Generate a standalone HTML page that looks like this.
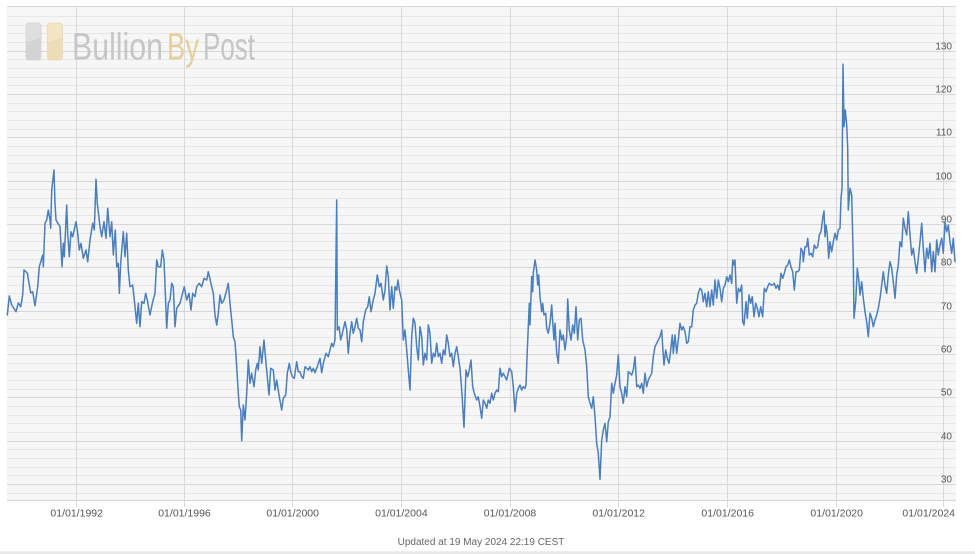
<!DOCTYPE html>
<html>
<head>
<meta charset="utf-8">
<style>
html,body{margin:0;padding:0;background:#fff;}
body{width:975px;height:554px;overflow:hidden;}
svg{display:block;}
text{font-family:"Liberation Sans",sans-serif;}
</style>
</head>
<body>
<svg width="975" height="554" viewBox="0 0 975 554" xmlns="http://www.w3.org/2000/svg">
<rect x="0" y="0" width="975" height="554" fill="#ffffff"/>
<rect x="7" y="6" width="949" height="495" fill="#f6f6f6"/>
<path shape-rendering="crispEdges" stroke="#e7e7e7" stroke-width="1" fill="none" d="M7 493.5H956M7 475.5H956M7 467.5H956M7 458.5H956M7 449.5H956M7 432.5H956M7 423.5H956M7 415.5H956M7 406.5H956M7 389.5H956M7 380.5H956M7 371.5H956M7 363.5H956M7 345.5H956M7 337.5H956M7 328.5H956M7 319.5H956M7 302.5H956M7 293.5H956M7 285.5H956M7 276.5H956M7 259.5H956M7 250.5H956M7 241.5H956M7 233.5H956M7 215.5H956M7 207.5H956M7 198.5H956M7 189.5H956M7 172.5H956M7 163.5H956M7 155.5H956M7 146.5H956M7 129.5H956M7 120.5H956M7 111.5H956M7 103.5H956M7 85.5H956M7 77.5H956M7 68.5H956M7 59.5H956M7 42.5H956M7 33.5H956M7 25.5H956M7 16.5H956"/>
<path shape-rendering="crispEdges" stroke="#d6d6d6" stroke-width="1" fill="none" d="M7 484.5H956M7 441.5H956M7 397.5H956M7 354.5H956M7 311.5H956M7 267.5H956M7 224.5H956M7 181.5H956M7 137.5H956M7 94.5H956M7 51.5H956M7 6.5H956M7 500.5H956"/>
<path shape-rendering="crispEdges" stroke="#d9d9d9" stroke-width="1" fill="none" d="M76.5 6V507M184.5 6V507M292.5 6V507M401.5 6V507M510.5 6V507M618.5 6V507M727.5 6V507M836.5 6V507M943.5 6V507"/>
<g>
<rect x="26" y="23" width="15" height="37" rx="3" fill="#dedede" stroke="#d2d2d2" stroke-width="0.8"/>
<path d="M26.5 42 L40.5 38 L40.5 57 Q40.5 59.5 38 59.5 L29 59.5 Q26.5 59.5 26.5 57 Z" fill="#d3d3d3"/>
<rect x="47.5" y="23" width="15" height="37" rx="3" fill="#f4e4c4" stroke="#ead6ad" stroke-width="0.8"/>
<path d="M48 42 L62 38 L62 57 Q62 59.5 59.5 59.5 L50.5 59.5 Q48 59.5 48 57 Z" fill="#eedcb6"/>
<text x="72" y="59.5" font-size="38" fill="#c6c6c6" textLength="91" lengthAdjust="spacingAndGlyphs">Bullion</text>
<text x="167" y="59.5" font-size="38" fill="#e6cf9e" textLength="32" lengthAdjust="spacingAndGlyphs">By</text>
<text x="203" y="59.5" font-size="38" fill="#c6c6c6" textLength="52" lengthAdjust="spacingAndGlyphs">Post</text>
</g>
<g font-size="10" fill="#555" text-anchor="end">
<text x="952" y="49.5">130</text>
<text x="952" y="92.5">120</text>
<text x="952" y="135.5">110</text>
<text x="952" y="179.5">100</text>
<text x="952" y="222.5">90</text>
<text x="952" y="265.5">80</text>
<text x="952" y="309.5">70</text>
<text x="952" y="352.5">60</text>
<text x="952" y="395.5">50</text>
<text x="952" y="439.5">40</text>
<text x="952" y="482.5">30</text>
</g>
<polyline fill="none" stroke="#4a7ebd" stroke-width="1.5" stroke-linejoin="round" stroke-linecap="round" points="7.3,315 9.3,296 11.7,305 16,311.7 18.3,303 20.7,306.7 22.7,295 24,270 27.3,273 30.7,293 32.7,291.7 35,305.7 37.7,286.7 39.3,266.7 42.7,255 43.3,266.7 45,223.3 46.7,220 48.3,210 50,220 50.7,228.3 51.7,190 54,170 55,203.3 56,220 60,226.7 62,266.7 63.3,243.3 64.3,256.7 66.7,205 67.7,233.3 69.3,256.7 71,231.7 72.7,236.7 76,221.7 77.7,233.3 79.3,250 81,243.3 83.3,258.3 86,250 87.7,261.7 90,240 92.7,223.3 94.3,230 96,179.3 97.3,203.3 100,226.7 101.7,236.7 104,221.7 106,238.3 107.7,208.3 110,236.7 111.7,221.7 113.3,255 115.3,230 116.7,266.7 118.3,263.3 119.3,293.3 120.7,263.3 123.3,231.7 125,256.7 126.7,233.3 128.3,270 130,286.7 132.7,285 135,306.7 136.7,323.3 138.3,303.3 140,326.7 141.7,301.7 144,303.3 145.7,293.3 147.3,300 150,315 152.7,301.7 155,293.3 156.7,260 158.3,266.7 160.7,266.7 162.3,250 164,260 166.7,328.3 168.3,303.3 170,300 171.7,283.3 173.3,286.7 175,326.7 176.7,308.3 180,303.3 181.7,296.7 184.3,286.7 186.7,300 189,293.3 191,310 192.7,293.3 195,296.7 196.7,286.7 199.3,283.3 201.7,286.7 204,278.3 206.7,280 208.3,271.7 211.7,286.7 213.3,293.3 215,315 216.7,325 218.3,313.3 220,295 221.7,303.3 224,300 226.7,290 228.3,283.3 230,303.3 231.7,320 233.3,336.7 235,341.7 236.7,366.7 238.3,393.3 239.3,406.7 240.7,410 241.7,440.7 243.3,405 245,420 246.7,393.3 248.3,360 250,383.3 251.7,373.3 254,386.7 255.7,370 257.3,363.3 258.3,370 260,346.7 261.7,363.3 264,340 266,363.3 267.3,376.7 269,395 270.7,368.3 273.3,370 275,390 276.7,380 279.3,396.7 281.7,410 283.3,398.3 285.7,395 287.3,373.3 289.3,363.3 290.7,371.7 292.3,376.7 294.3,378.3 296.7,361.7 298.3,371.7 300,371.7 301.7,376.7 303.3,378.3 305,366.7 306.7,368.3 308.3,370 310,366.7 311.7,371.7 313.3,368.3 315,372.7 317.3,366.7 320,358.3 321.7,372.7 323.3,363.3 326,353.3 328.3,356.7 330,350 331.7,343.3 333.3,346.7 335,340 336.7,200 337.3,330 339,326.7 340.7,340 342.3,333.3 345,321.7 346.7,330 348.3,353.3 350,333.3 351.7,321.7 353.3,333.3 355,326.7 356.7,318.3 358.3,328.3 360,330 361.7,341.7 363.3,321.7 365.7,310 367.7,306.7 369.3,296.7 371,311.7 373.3,300 375,293.3 377.3,275 379.3,286.7 381,283.3 383.3,300 385,290 386.7,266 388.3,276.7 390,310 391.7,286.7 393.3,308.3 395,286.7 396.7,290 398,280 399.3,290 401.7,300 403.3,340 405,330 406.7,350 408.3,370 410,390 411.7,336.7 413.3,318.3 415,323.3 416.7,346.7 418.3,360 420,326.7 421.7,336.7 423.3,365 425,353.3 426.7,360 428.3,325 430,333.3 431.7,363.3 433.3,353.3 435,356.7 436.7,343.3 438.3,356.7 440,353.3 441.7,363.3 443.3,350 445,355 446.7,335 448.3,343.3 450,356.7 451.7,353.3 453.3,366.7 455,353.3 456.7,346.7 458.3,356.7 460,368.3 461.7,390 464,427.3 466,370 467.7,376.7 469.3,370 471,360 472.7,386.7 474.3,393.3 476.7,400 478.3,396.7 480,406.7 481.7,418.3 483.3,400 485,403.3 486.7,408.3 488.3,400 490,403.3 491.7,393.3 493.3,400 495,393.3 496.7,390 498.3,391.7 500,368.3 501.7,376.7 503.3,373.3 505,376.7 506.7,380 509.3,368.3 511.7,371.7 513.3,386.7 515,411.7 516.7,393.3 518.3,388.3 520,385 521.7,390 523.3,386.7 525,388.3 526,385 527.3,350 529.3,303.3 530,325 531.7,276.7 532.7,291.7 533.3,273.3 535,260 536.7,270 537.7,285 538.7,275 540,296.7 541.7,311.7 542.7,303.3 544,315 545.7,313.3 546.7,328.3 548.3,333.3 550,323.3 551.7,305 552.7,321.7 554,340 555,323.3 556.7,353.3 558.3,363.3 560,330 561.7,340 563.3,335 565,350 566.7,336.7 567.7,299 569.3,330 571,340 572.7,325 574.3,333.3 576,306.7 577.7,340 579.3,320 581,318.3 582.7,340 585,350 586.7,366.7 588.3,396.7 590,403.3 591.7,408.3 593.3,396.7 595,416.7 596.7,443.3 598.3,453.3 600,479.3 601.7,440 603.3,430 605,423.3 606.7,441.7 608.3,421.7 610,416.7 611.7,383.3 613.3,393.3 615,383.3 616.7,375 618.3,355 620,386.7 621.7,393.3 623.3,403.3 625,386.7 626.7,396.7 628.3,371.7 630,373.3 631.7,375 633.3,370 635,356.7 636.7,386.7 638.3,385 640,388.3 641.7,383.3 643.3,393.3 645,373.3 646.7,386.7 648.3,380 650,376.7 651.7,373.3 653.3,356.7 655,346.7 656.7,343.3 658.3,340 660,336.7 661.7,330 662.7,346.7 664,365 665.7,350 667.3,358.3 669,363.3 670.7,350 672.3,335 673.3,353.3 675,335 676.7,353.3 678.3,340 680,323.3 681.7,330 683.3,326.7 685,331.7 686.7,343.3 688.3,341.7 690,326.7 691.7,326.7 693.3,310 695,305 696.7,303.3 698.3,293.3 700,288.3 701.7,290 703.3,301.7 705,293.3 706.7,306.7 708.3,291.7 710,306.7 711.7,290 713.3,305 715,280 716.7,298.3 718.3,280 720,288.3 721.7,301.7 723.3,288.3 725,285 726.7,276.7 728.3,281.7 730,275 731.7,283.3 732.7,260 734,265 735,260 736.7,303.3 738.3,288.3 740,291.7 741.7,285 742.7,321.7 744,325 746,301.7 747.3,318.3 749,295 750.7,303.3 752.3,296.7 754,316.7 755.7,303.3 757.3,308.3 759,316.7 760.7,306.7 762.7,316.7 764.3,288.3 766,291.7 767.7,286.7 769.3,283.3 771,285 772.7,285 774.3,283.3 776,288.3 777.7,285 779.3,290 781,273.3 782.7,278.3 784.3,273.3 786,266.7 787.7,265 789.3,260 791,266.7 792.7,271.7 794.3,290 796,271.7 797.7,271.7 799.3,270 801,248.3 802.7,251.7 803.3,261.7 805,246.7 806.7,246.7 807.7,238.3 809.3,255 811,253.3 812.7,256.7 814.3,245 816,248.3 817.7,246.7 819.3,235 821,231.7 822.7,218.3 824,211 825,236.7 826,225 827.3,235 828.7,258.3 830,241.7 831.7,251.7 833.3,241.7 835,233.3 836.7,240 838.3,230 840,228.3 841,198.3 842,188.3 843,64.3 844,126.7 845.3,110 846.7,125 847.7,148.3 848.3,210 850,188.3 851.7,195 853.3,261.7 854,318.3 855.7,301.7 857.3,268.3 859,281.7 860,295 861.7,281.7 863.3,298.3 865,311.7 866.7,321.7 868.3,336.7 870,313.3 871.7,318.3 873.3,326.7 875,320 876.7,315 878.3,308.3 880,298.3 881.7,285 883.3,271.7 885,285 886.7,293.3 888.3,275 890,261.7 891.7,268.3 893.3,281.7 895,298.3 896.7,275 898.3,265 900,241.7 901.7,246.7 903.3,218.3 905,228.3 906.7,235 908.3,211.7 910,235 911.7,255 913.3,248.3 915,261.7 916.7,273.3 918.3,258.3 920,241.7 921.7,223.3 923.3,248.3 925,271.7 926.7,248.3 928.3,258.3 930,243.3 931.7,271.7 933.3,251.7 935,271.7 936.7,240 938.3,255 940,245 941.7,238.3 943.3,253.3 945,221.7 946.7,231.7 948.3,225 950,241.7 951.7,253.3 953.3,238.3 955,261.7"/>
<g font-size="10.5" fill="#555" text-anchor="middle">
<text x="76.7" y="516.5">01/01/1992</text>
<text x="184.5" y="516.5">01/01/1996</text>
<text x="292.7" y="516.5">01/01/2000</text>
<text x="401.4" y="516.5">01/01/2004</text>
<text x="510" y="516.5">01/01/2008</text>
<text x="618.7" y="516.5">01/01/2012</text>
<text x="727.7" y="516.5">01/01/2016</text>
<text x="836.7" y="516.5">01/01/2020</text>
<text x="928.7" y="516.5">01/01/2024</text>
</g>
<text x="481" y="545" font-size="10" fill="#666" text-anchor="middle">Updated at 19 May 2024 22:19 CEST</text>
<defs>
<linearGradient id="bg" x1="0" y1="0" x2="0" y2="1">
<stop offset="0" stop-color="#f2f2f2"/>
<stop offset="1" stop-color="#e2e2e2"/>
</linearGradient>
</defs>
<rect x="0" y="551" width="975" height="3" fill="url(#bg)"/>
</svg>
</body>
</html>
